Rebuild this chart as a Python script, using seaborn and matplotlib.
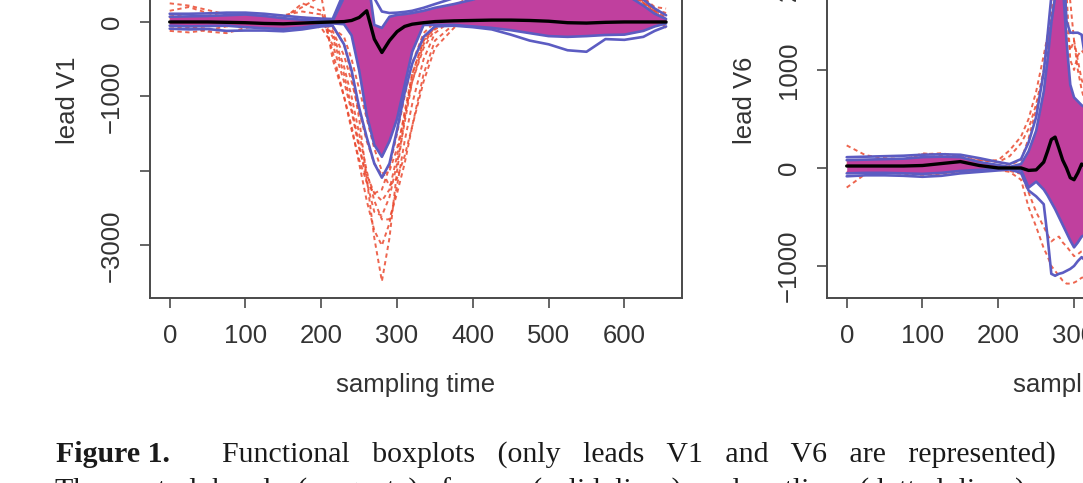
"""
Functional boxplots of ECG leads V1 and V6 (cropped figure from a paper).
"""

import matplotlib
matplotlib.use('Agg')
import matplotlib.pyplot as plt
import seaborn as sns
from matplotlib import font_manager

# ---------------- data ----------------
# lead V1
t_v1 = [0, 25, 50, 75, 100, 125, 150, 175, 200, 215, 230, 240, 250, 260, 270, 280, 290, 300, 310, 320,
        335, 350, 375, 400, 425, 450, 475, 500, 525, 550, 575, 600, 625, 640, 655]
v1_median = [0, 0, 0, -5, -10, -20, -25, -15, -5, 0, 5, 20, 60, 150, -230, -410, -250, -130, -60, -30,
             -10, 5, 15, 20, 25, 25, 20, 10, -10, -15, -5, 0, 0, 0, 0]
v1_band_hi = [70, 75, 80, 90, 100, 80, 50, 30, 15, 10, 330, 600, 900, 700, -40, -80, 70, 95, 105, 120,
              150, 190, 240, 300, 380, 450, 500, 520, 520, 500, 450, 380, 220, 110, 40]
v1_band_lo = [-50, -60, -55, -50, -70, -85, -95, -75, -40, -20, -30, -180, -650, -1250, -1650, -1810, -1600, -1300,
              -850, -400, -40, -40, -40, -60, -80, -110, -150, -190, -200, -190, -175, -170, -120, -60, -20]
v1_fence_hi = [110, 110, 115, 125, 125, 110, 85, 60, 45, 40, 400, 800, 1200, 1300, 320, 140, 120, 125, 135, 150,
               190, 240, 320, 420, 520, 600, 650, 680, 680, 650, 600, 500, 300, 180, 90]
v1_fence_lo = [-90, -100, -95, -120, -115, -115, -125, -100, -60, -50, -300, -650, -1150, -1550, -1900, -2090, -1900,
               -1450, -950, -560, -200, -60, -50, -70, -100, -170, -250, -300, -380, -400, -230, -240, -200, -120, -60]
v1_out_a = [150, 200, 120, 60, 30, 20, 20, 30, 0, -60, -300, -700, -1300, -2100, -2900, -3480, -2900, -2000, -1300,
            -700, -250, -50, 100, 300, 450, 550, 600, 620, 600, 580, 520, 450, 300, 150, 60]
v1_out_b = [-120, -140, -110, -60, -40, -30, 40, 250, 150, -400, -1000, -1400, -1900, -2400, -2800, -3000, -2700,
            -2200, -1600, -1100, -500, -150, 50, 250, 400, 500, 560, 600, 620, 600, 560, 480, 330, 200, 180]
v1_out_c = [250, 220, 160, 100, 60, 40, 20, 0, -20, -150, -600, -1000, -1500, -2000, -2400, -2650, -2650, -2300,
            -1900, -1400, -700, -250, -30, 150, 350, 480, 560, 600, 600, 560, 500, 420, 260, 120, 20]
v1_out_d = [-30, -60, -130, -150, -80, -40, -20, -10, -80, -300, -800, -1200, -1700, -2050, -2300, -2400, -2250,
            -1800, -1200, -700, -250, -80, 60, 220, 380, 480, 540, 580, 570, 540, 480, 400, 250, 80, -80]
v1_out_e = [100, 60, 20, 0, 10, 30, 60, 200, 350, -500, -1000, -1450, -1850, -2150, -2300, -2250, -1950, -1500,
            -1000, -550, -150, 0, 200, 380, 500, 580, 620, 640, 640, 620, 580, 500, 340, 160, 40]
v1_out_f = [60, 30, 40, 30, 20, 10, 0, -20, -40, -80, -200, -500, -900, -1300, -1700, -2000, -2200, -2100, -1800,
            -1400, -800, -350, -80, 100, 250, 380, 460, 500, 500, 470, 420, 360, 260, 140, -100]
v1_out_g = [-60, -80, -60, -40, -20, -10, 10, 60, 40, -200, -700, -1150, -1650, -2150, -2550, -2600, -2350, -1900,
            -1350, -800, -300, -60, 80, 260, 420, 520, 580, 610, 610, 580, 540, 460, 310, 170, 120]
v1_out_h = [40, 20, 10, 20, 40, 60, 90, 140, 100, -120, -450, -800, -1200, -1600, -1900, -2050, -2000, -1700,
            -1250, -800, -350, -100, 40, 200, 340, 440, 500, 540, 540, 520, 480, 420, 280, 140, 0]

# lead V6
t_v6 = [0, 25, 50, 75, 100, 125, 150, 175, 200, 215, 230, 240, 250, 260, 265, 270, 275, 280, 285, 290,
        295, 300, 305, 310, 320, 335]
v6_median = [20, 20, 20, 20, 25, 45, 65, 25, 0, 0, 0, -25, -20, 60, 170, 290, 315, 200, 80, 0,
             -100, -120, -50, 40, -10, 30]
v6_band_hi = [80, 85, 90, 95, 110, 115, 110, 60, 30, 10, 40, 170, 380, 780, 1100, 1480, 1750, 2100, 1900, 1300,
              850, 720, 680, 640, 590, 550]
v6_band_lo = [-55, -50, -50, -55, -60, -50, -30, -20, -10, -5, -20, -200, -140, -220, -280, -350, -420, -500, -580,
              -660, -740, -810, -760, -700, -660, -620]
v6_fence_hi = [110, 115, 120, 125, 135, 140, 135, 100, 60, 40, 90, 260, 520, 980, 1350, 1750, 2100, 2400, 2300,
               1500, 1380, 1380, 1380, 1360, 850, 700]
v6_fence_lo = [-85, -75, -75, -80, -90, -80, -55, -40, -25, -15, -50, -230, -290, -370, -700, -1080, -1100, -1080,
               -1070, -1050, -1030, -1000, -950, -910, -980, -950]
v6_out_a = [230, 130, 100, 90, 140, 150, 120, 90, 60, 30, 80, 300, 600, 950, 1300, 1700, 2100, 2500, 2600, 2000,
            1700, 1300, 1000, 800, 500, 400]
v6_out_b = [-200, -60, -45, -60, -70, -60, -40, -30, -20, -40, -120, -400, -600, -820, -900, -1000, -1050, -1100,
            -1150, -1180, -1180, -1170, -1150, -1120, -1110, -1050]
v6_out_c = [40, 60, 70, 80, 150, 130, 100, 70, 80, 180, 320, 500, 780, 1150, 1350, 1550, 1800, 2300, 2200, 1800,
            1100, 1000, 1150, 1200, 1100, 900]
v6_out_d = [60, 70, 80, 90, 100, 110, 100, 80, 60, 120, 250, 400, 650, 1000, 1250, 1450, 1700, 2000, 1700, 1400,
            1200, 1300, 1100, 900, 700, 600]
v6_out_e = [-40, -40, -45, -50, -60, -55, -35, -25, -20, -30, -60, -250, -450, -600, -680, -750, -720, -700, -760,
            -800, -850, -900, -880, -850, -820, -800]

x_ticks = [0, 100, 200, 300, 400, 500, 600]
v1_ticks = [-3000, -2000, -1000, 0, 1000]
v1_ticklabels = ['\u22123000', '', '\u22121000', '0', '1000']
v6_ticks = [-1000, 0, 1000, 2000]
v6_ticklabels = ['\u22121000', '0', '1000', '2000']

caption_head = 'Figure 1.'
caption_line1 = 'Functional   boxplots   (only   leads   V1   and   V6   are   represented)'
caption_line2 = 'The  central  bands  (magenta),  fences  (solid  lines)  and  outliers  (dotted  lines)  are'

MAGENTA = '#c0409e'
BLUE = '#5c5cc2'
RED = '#ea4a30'
AXCOL = '#4a4a4a'

# ---------------- style ----------------
sns.set_style('white')
names = {f.name for f in font_manager.fontManager.ttflist}
if 'Liberation Sans Narrow' in names:
    sans = ['Liberation Sans Narrow', 'DejaVu Sans']
    fsize = 20
else:
    sans = ['Liberation Sans', 'DejaVu Sans']
    fsize = 18.5
plt.rcParams['font.family'] = sans
plt.rcParams['axes.unicode_minus'] = True


def draw_panel(ax, t, median, band_lo, band_hi, fence_lo, fence_hi, outliers):
    for o in outliers:
        sns.lineplot(x=t, y=o, ax=ax, color=RED, lw=1.4, linestyle=(0, (2.2, 1.8)), alpha=0.85,
                     zorder=1, estimator=None)
    ax.fill_between(t, band_lo, band_hi, color=MAGENTA, lw=0, zorder=2)
    for b in [fence_lo, fence_hi, band_lo, band_hi]:
        sns.lineplot(x=t, y=b, ax=ax, color=BLUE, lw=1.9, zorder=3, estimator=None)
    sns.lineplot(x=t, y=median, ax=ax, color='black', lw=2.4, zorder=4, estimator=None)


def style_axes(ax, yticks, yticklabels, ylim, ylabel):
    ax.set_xlim(-26, 676)
    ax.set_ylim(*ylim)
    ax.set_xticks(x_ticks)
    ax.set_xticklabels([str(v) for v in x_ticks])
    ax.set_yticks(yticks)
    ax.set_yticklabels(yticklabels, rotation=90, va='center')
    for s in ax.spines.values():
        s.set_visible(True)
        s.set_color(AXCOL)
        s.set_linewidth(1.4)
    ax.tick_params(axis='both', direction='out', length=7, width=1.2, color=AXCOL,
                   labelsize=fsize, labelcolor='#333333', pad=12,
                   bottom=True, left=True, top=False, right=False)
    ax.set_xlabel('sampling time', fontsize=fsize, color='#333333', labelpad=18)
    ax.set_ylabel(ylabel, fontsize=fsize, color='#333333', labelpad=14)
    ax.grid(False)


fig = plt.figure(figsize=(10.83, 4.83), dpi=100)
W, H = 1083.0, 483.0
ax1 = fig.add_axes([150 / W, (H - 298) / H, 532 / W, (298 + 98) / H])
ax2 = fig.add_axes([827 / W, (H - 298) / H, 532 / W, (298 + 98) / H])

draw_panel(ax1, t_v1, v1_median, v1_band_lo, v1_band_hi, v1_fence_lo, v1_fence_hi,
           [v1_out_a, v1_out_b, v1_out_c, v1_out_d, v1_out_e, v1_out_f, v1_out_g, v1_out_h])
draw_panel(ax2, t_v6, v6_median, v6_band_lo, v6_band_hi, v6_fence_lo, v6_fence_hi,
           [v6_out_a, v6_out_b, v6_out_c, v6_out_d, v6_out_e])

style_axes(ax1, v1_ticks, v1_ticklabels, (-3705, 1610), 'lead V1')
style_axes(ax2, v6_ticks, v6_ticklabels, (-1327, 2714), 'lead V6')

# caption (cropped at the bottom of the picture)
serif = ['Liberation Serif', 'DejaVu Serif']
fig.text(56 / W, (H - 462) / H, caption_head, family=serif, fontweight='bold', fontsize=21.5,
         color='#1a1a1a', va='baseline', ha='left')
fig.text(222 / W, (H - 462) / H, caption_line1, family=serif, fontsize=21.5,
         color='#1a1a1a', va='baseline', ha='left')
fig.text(55 / W, (H - 499) / H, caption_line2, family=serif, fontsize=21.5,
         color='#1a1a1a', va='baseline', ha='left')

fig.savefig('out.png', dpi=100)
